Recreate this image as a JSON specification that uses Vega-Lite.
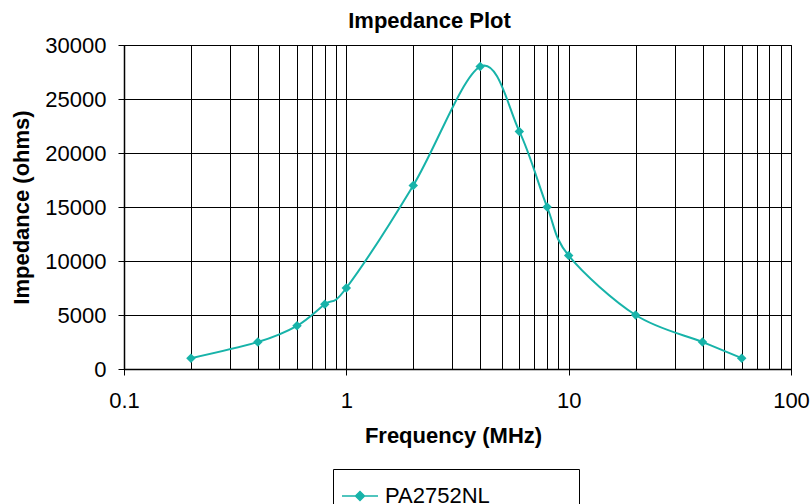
{
  "$schema": "https://vega.github.io/schema/vega-lite/v6.json",
  "autosize": "none",
  "width": 667,
  "height": 324,
  "padding": {"left": 124, "top": 45, "right": 19, "bottom": 135},
  "background": "white",
  "config": {
    "font": "Liberation Sans",
    "view": {"stroke": "black", "strokeWidth": 1}
  },
  "title": {
    "text": "Impedance Plot",
    "font": "Liberation Sans",
    "fontSize": 22,
    "fontWeight": "bold",
    "color": "black",
    "anchor": "middle",
    "frame": "group",
    "dx": -28,
    "offset": 1
  },
  "data": {
    "values": [
      {"freq": 0.2, "imp": 1000, "series": "PA2752NL"},
      {"freq": 0.4, "imp": 2500, "series": "PA2752NL"},
      {"freq": 0.6, "imp": 4000, "series": "PA2752NL"},
      {"freq": 0.8, "imp": 6000, "series": "PA2752NL"},
      {"freq": 1, "imp": 7500, "series": "PA2752NL"},
      {"freq": 2, "imp": 17000, "series": "PA2752NL"},
      {"freq": 4, "imp": 28000, "series": "PA2752NL"},
      {"freq": 6, "imp": 22000, "series": "PA2752NL"},
      {"freq": 8, "imp": 15000, "series": "PA2752NL"},
      {"freq": 10, "imp": 10500, "series": "PA2752NL"},
      {"freq": 20, "imp": 5000, "series": "PA2752NL"},
      {"freq": 40, "imp": 2500, "series": "PA2752NL"},
      {"freq": 60, "imp": 1000, "series": "PA2752NL"}
    ]
  },
  "encoding": {
    "x": {
      "field": "freq",
      "type": "quantitative",
      "scale": {"type": "log", "domain": [0.1, 100], "nice": false},
      "axis": {
        "title": "Frequency (MHz)",
        "titleFont": "Liberation Sans",
        "titleFontSize": 22,
        "titleFontWeight": "bold",
        "titleColor": "black",
        "titleBaseline": "alphabetic",
        "titleY": 73,
        "titleX": 329,
        "titleAnchor": "middle",
        "values": [0.1, 0.2, 0.3, 0.4, 0.5, 0.6, 0.7, 0.8, 0.9, 1, 2, 3, 4, 5, 6, 7, 8, 9, 10, 20, 30, 40, 50, 60, 70, 80, 90, 100],
        "format": "~g",
        "labelExpr": "abs(log(datum.value)/LN10 - round(log(datum.value)/LN10)) < 0.000001 ? datum.label : ''",
        "labelOverlap": false,
        "labelFont": "Liberation Sans",
        "labelFontSize": 22,
        "labelColor": "black",
        "labelPadding": 15,
        "labelFlush": false,
        "grid": true,
        "gridColor": "black",
        "gridWidth": 1,
        "gridOpacity": 1,
        "ticks": true,
        "tickSize": 6,
        "tickColor": "black",
        "tickOpacity": {"condition": {"test": "abs(log(datum.value)/LN10 - round(log(datum.value)/LN10)) < 0.000001", "value": 1}, "value": 0},
        "domainColor": "black",
        "domainWidth": 1.5
      }
    },
    "y": {
      "field": "imp",
      "type": "quantitative",
      "scale": {"domain": [0, 30000], "nice": false},
      "axis": {
        "title": "Impedance (ohms)",
        "titleFont": "Liberation Sans",
        "titleFontSize": 22,
        "titleFontWeight": "bold",
        "titleColor": "black",
        "titleAngle": -90,
        "titleBaseline": "alphabetic",
        "titleAlign": "center",
        "titleX": -96,
        "titleY": 162,
        "values": [0, 5000, 10000, 15000, 20000, 25000, 30000],
        "format": "d",
        "labelFont": "Liberation Sans",
        "labelFontSize": 22,
        "labelColor": "black",
        "labelPadding": 12,
        "grid": true,
        "gridColor": "black",
        "gridWidth": 1,
        "gridOpacity": 1,
        "tickSize": 6,
        "tickColor": "black",
        "domainColor": "black",
        "domainWidth": 1.5
      }
    },
    "color": {
      "field": "series",
      "type": "nominal",
      "scale": {"range": ["#17B3A9"]},
      "legend": {
        "title": null,
        "orient": "none",
        "legendX": 209,
        "legendY": 424,
        "padding": 8,
        "strokeColor": "black",
        "fillColor": "white",
        "symbolType": "M-1,0L1,0M0,-0.25L0.25,0L0,0.25L-0.25,0ZM11.55,0",
        "symbolSize": 1296,
        "symbolStrokeWidth": 1.5,
        "symbolFillColor": "#17B3A9",
        "symbolStrokeColor": "#17B3A9",
        "labelFont": "Liberation Sans",
        "labelFontSize": 22,
        "labelColor": "black",
        "labelOffset": 6,
        "labelLimit": 400
      }
    }
  },
  "layer": [
    {
      "mark": {"type": "line", "interpolate": "cardinal", "tension": 0, "strokeWidth": 2}
    },
    {
      "mark": {"type": "point", "shape": "diamond", "filled": true, "size": 90, "opacity": 1}
    }
  ]
}
